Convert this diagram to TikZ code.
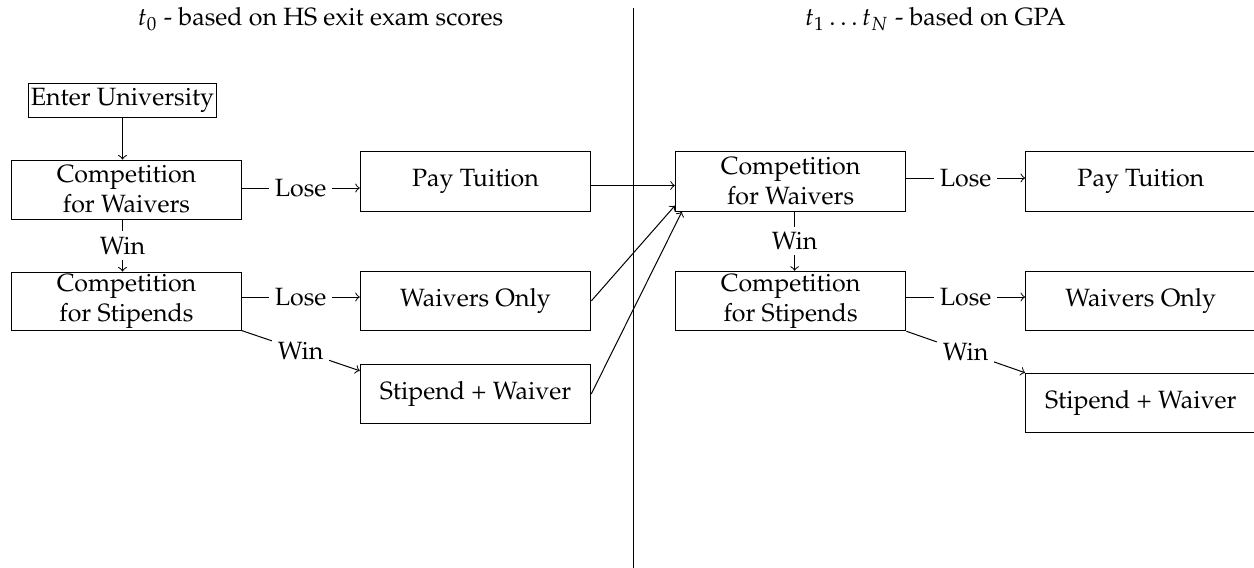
\documentclass[tikz,border=0pt]{standalone}
\usepackage[T1]{fontenc}
\usepackage{mathpazo}
\begin{document}
\begin{tikzpicture}[x=0.4pt,y=-0.4pt,
  box/.style={draw, line width=0.4pt, inner sep=0pt, align=center, minimum width=92.2pt, minimum height=23.8pt},
  lbl/.style={fill=white, inner sep=2.2pt, midway},
  arr/.style={->, line width=0.4pt},
  ttl/.style={inner sep=0pt}]
\clip (0,0) rectangle (1254,567);
% titles and divider
\node[ttl] (tl) at (320.5,19) {$t_0$ - based on HS exit exam scores};
\node[ttl] (tr) at (935.5,19) {$t_1 \ldots t_N$ - based on GPA};
\coordinate (divtop) at (633,8);
\coordinate (divbot) at (633,570);
\draw[line width=0.4pt] (divtop) -- (divbot);
% left column
\node[draw, line width=0.4pt, inner sep=0pt, minimum width=75.2pt, minimum height=13.6pt] (enter) at (122.5,100) {Enter University};
\node[box, minimum width=91.6pt, minimum height=23.6pt] (lcw) at (126.5,189.5) {Competition\\for Waivers};
\node[box, minimum width=91.6pt, minimum height=23.2pt] (lcs) at (126.5,301) {Competition\\for Stipends};
\node[box] (lpt) at (475.5,181.5) {Pay Tuition};
\node[box] (lwo) at (475.5,301) {Waivers Only};
\node[box] (lsw) at (475.5,394) {Stipend + Waiver};
% right column
\node[box] (rcw) at (790.6,181.5) {Competition\\for Waivers};
\node[box] (rcs) at (790.6,301) {Competition\\for Stipends};
\node[box] (rpt) at (1140.8,181.5) {Pay Tuition};
\node[box] (rwo) at (1140.8,301) {Waivers Only};
\node[box] (rsw) at (1140.8,403) {Stipend + Waiver};
% left connectors
\draw[arr] (enter.south) -- (enter.south |- lcw.north);
\draw[arr] (lcw.south -| enter.south) -- node[lbl] {Win} (lcs.north -| enter.south);
\draw[arr] ([yshift=0.6pt]lcw.east) -- node[lbl] {Lose} ([yshift=0.6pt]lcw.east -| lpt.west);
\draw[arr] ([yshift=1.6pt]lcs.east) -- node[lbl] {Lose} ([yshift=1.6pt]lcs.east -| lwo.west);
\draw[arr] (lcs.south east) -- node[lbl] {Win} ([yshift=-2.8pt]lsw.north west);
% cross connectors
\draw[arr] ([yshift=-1.6pt]lpt.east) -- ([yshift=-1.6pt]lpt.east -| rcw.west);
\draw[arr] (lwo.east) -- ([yshift=2.4pt]rcw.south west);
\draw[arr] (lsw.east) -- ([xshift=2.8pt]rcw.south west);
% right connectors
\draw[arr] ([xshift=1.6pt]rcw.south) -- node[lbl] {Win} ([xshift=1.6pt]rcs.north);
\draw[arr] ([yshift=1.4pt]rcw.east) -- node[lbl] {Lose} ([yshift=1.4pt]rcw.east -| rpt.west);
\draw[arr] ([yshift=1.6pt]rcs.east) -- node[lbl] {Lose} ([yshift=1.6pt]rcs.east -| rwo.west);
\draw[arr] (rcs.south east) -- node[lbl] {Win} (rsw.north west);
\end{tikzpicture}
\end{document}
